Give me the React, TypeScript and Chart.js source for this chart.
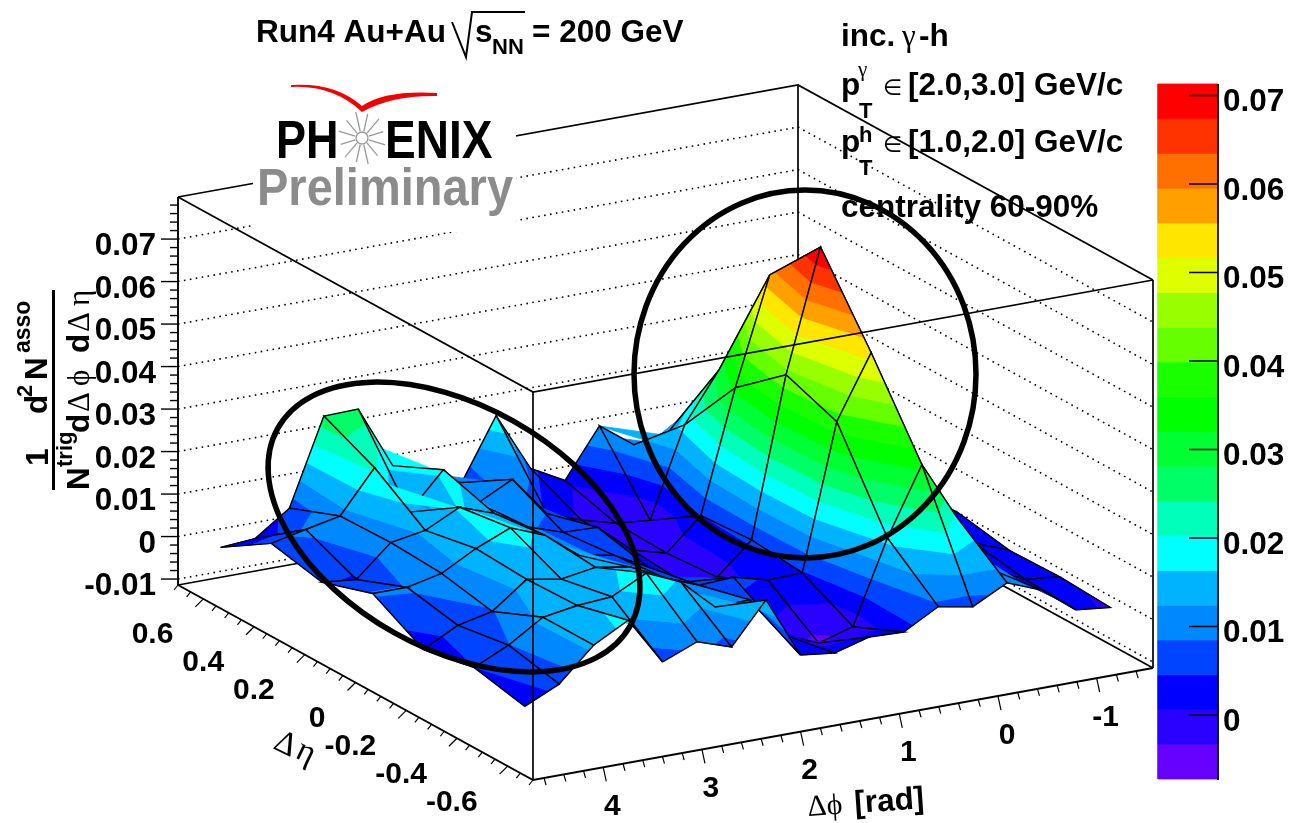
import React, { useEffect, useRef } from "react";
import { Chart, registerables } from "chart.js";

Chart.register(...registerables);

// ---- data ----
const phiCenters = [4.538, 4.189, 3.84, 3.491, 3.142, 2.793, 2.443, 2.094, 1.745, 1.396, 1.047, 0.698, 0.349, 0, -0.349, -0.698, -1.047, -1.396];
const etaCenters = [-0.6, -0.4, -0.2, 0, 0.2, 0.4, 0.6];
// one row per phi centre, one value per eta centre
const zPerPhi = [
  [0.0019, 0.0045, 0.0022, 0.0088, 0.0049, 0.0075, 0.0],
  [0.0057, 0.0083, 0.0064, 0.0088, 0.0041, 0.0093, 0.0006],
  [0.0134, 0.0134, 0.0082, 0.0106, 0.0113, 0.011, 0.0063],
  [0.0178, 0.0147, 0.0143, 0.015, 0.0127, 0.0209, 0.0265],
  [0.0065, 0.0153, 0.0129, 0.0184, 0.0167, 0.009, 0.0267],
  [0.0098, 0.0194, 0.0142, 0.0152, 0.0138, 0.0175, 0.0119],
  [0.0071, 0.0158, 0.0128, 0.009, 0.0091, 0.0082, 0.0087],
  [0.0167, 0.0085, 0.0088, 0.0076, 0.0064, 0.0123, 0.005],
  [0.0023, 0.0087, 0.0056, 0.0033, 0.0061, 0.0028, 0.0193],
  [0.0013, -0.001, 0.006, -0.0017, -0.0007, -0.0002, 0.0054],
  [0.0036, -0.0044, 0.0039, -0.002, -0.0029, -0.0024, 0.0011],
  [0.0033, -0.002, 0.0041, 0.0053, 0.0045, -0.0032, 0.0125],
  [0.0078, 0.0174, 0.0382, 0.0427, 0.0331, 0.0178, 0.0066],
  [0.0063, 0.0332, 0.053, 0.0713, 0.0582, 0.0293, 0.0081],
  [0.0105, 0.0195, 0.0286, 0.0456, 0.0416, 0.0411, 0.0116],
  [0.0073, 0.0057, 0.0097, 0.0217, 0.0267, 0.0167, 0.0077],
  [0.0012, 0.0018, 0.0038, 0.0078, 0.0098, 0.0068, 0.0038],
  [0.0003, 0.001, 0.0007, 0.0029, 0.0029, 0.0029, 0.0019],
];
const bandColors = [
  "#6600ff", "#2a00ff", "#0000ff", "#0044ff", "#0088ff", "#00b3ff", "#00ffff", "#00ffbb", "#00ff66", "#00ff33",
  "#00ff00", "#1aff00", "#66ff00", "#99ff00", "#ddff00", "#ffe600", "#ffa000", "#ff7000", "#ff3300", "#ff0000",
];
const colorMin = -0.00723;
const colorMax = 0.0713;
const zTickValues = [-0.01, 0, 0.01, 0.02, 0.03, 0.04, 0.05, 0.06, 0.07];
const zTickLabels = ["-0.01", "0", "0.01", "0.02", "0.03", "0.04", "0.05", "0.06", "0.07"];
const cbTickValues = [0, 0.01, 0.02, 0.03, 0.04, 0.05, 0.06, 0.07];
const cbTickLabels = ["0", "0.01", "0.02", "0.03", "0.04", "0.05", "0.06", "0.07"];
const etaTickValues = [-0.6, -0.4, -0.2, 0, 0.2, 0.4, 0.6];
const etaTickLabels = ["-0.6", "-0.4", "-0.2", "0", "0.2", "0.4", "0.6"];
const phiTickValues = [-1, 0, 1, 2, 3, 4];
const phiTickLabels = ["-1", "0", "1", "2", "3", "4"];

// ---- projection of the ROOT-style box ----
const PHI_MAX = 4.712, PHI_MIN = -1.571, ETA_MIN = -0.7, ETA_MAX = 0.7, Z_MIN = -0.0114, Z_MAX = 0.0799;
const F = { x: 533, y: 780 }, LEFT = { x: 178, y: 585 }, RIGHT = { x: 1153, y: 668 };
const BOX_H = 388;
function proj(phi: number, eta: number, z: number) {
  const a = (PHI_MAX - phi) / (PHI_MAX - PHI_MIN);
  const b = (eta - ETA_MIN) / (ETA_MAX - ETA_MIN);
  const h = ((z - Z_MIN) / (Z_MAX - Z_MIN)) * BOX_H;
  return {
    x: F.x + a * (RIGHT.x - F.x) + b * (LEFT.x - F.x),
    y: F.y + a * (RIGHT.y - F.y) + b * (LEFT.y - F.y) - h,
  };
}
const cbY = (z: number) => 715 - (z / 0.01) * 88.5;

type P = { x: number; y: number };
type V = P & { z: number };

const line = (pts: P[], color = "#000", width = 1, dash: number[] = []) => ({
  data: pts, showLine: true, borderColor: color, borderWidth: width, borderDash: dash,
  pointRadius: 0, fill: false, tension: 0, borderCapStyle: "butt",
});
const poly = (pts: P[], color: string) => ({
  data: [...pts, pts[0]], showLine: true, borderColor: color, borderWidth: 0.8, backgroundColor: color,
  pointRadius: 0, fill: "shape", tension: 0, borderJoinStyle: "round",
});

function clipZ(pts: V[], level: number, keepAbove: boolean): V[] {
  const out: V[] = [];
  const inside = (v: V) => (keepAbove ? v.z >= level : v.z <= level);
  for (let i = 0; i < pts.length; i++) {
    const a = pts[i], b = pts[(i + 1) % pts.length];
    if (inside(a)) out.push(a);
    if (inside(a) !== inside(b)) {
      const t = (level - a.z) / (b.z - a.z);
      out.push({ x: a.x + t * (b.x - a.x), y: a.y + t * (b.y - a.y), z: level });
    }
  }
  return out;
}

function buildDatasets() {
  const paint: any[] = []; // painted back to front
  const at = (phi: number, eta: number, z: number) => proj(phi, eta, z);
  for (const z of zTickValues) {
    paint.push(line([at(PHI_MAX, ETA_MAX, z), at(PHI_MIN, ETA_MAX, z), at(PHI_MIN, ETA_MIN, z)], "#000", 1.6, [1.6, 4.4]));
  }
  paint.push(line([at(PHI_MAX, ETA_MAX, Z_MIN), at(PHI_MIN, ETA_MAX, Z_MIN), at(PHI_MIN, ETA_MIN, Z_MIN)], "#000", 1.7));
  paint.push(line([at(PHI_MAX, ETA_MAX, Z_MAX), at(PHI_MIN, ETA_MAX, Z_MAX), at(PHI_MIN, ETA_MIN, Z_MAX)], "#000", 1.7));
  paint.push(line([at(PHI_MIN, ETA_MAX, Z_MIN), at(PHI_MIN, ETA_MAX, Z_MAX)], "#000", 1.7));
  paint.push(line([at(PHI_MIN, ETA_MIN, Z_MIN), at(PHI_MIN, ETA_MIN, Z_MAX)], "#000", 1.7));

  // surface
  const dz = (colorMax - colorMin) / bandColors.length;
  for (let i = phiCenters.length - 2; i >= 0; i--) {
    for (let j = etaCenters.length - 2; j >= 0; j--) {
      const corners: [number, number][] = [[i, j], [i + 1, j], [i + 1, j + 1], [i, j + 1]];
      const quad: V[] = corners.map(([a, b]) => {
        const z = zPerPhi[a][b];
        return { ...proj(phiCenters[a], etaCenters[b], z), z };
      });
      bandColors.forEach((c, k) => {
        let pts = quad;
        if (k > 0) pts = clipZ(pts, colorMin + k * dz, true);
        if (pts.length && k < bandColors.length - 1) pts = clipZ(pts, colorMin + (k + 1) * dz, false);
        if (pts.length >= 3) paint.push(poly(pts, c));
      });
      paint.push(line([...quad, quad[0]], "#000", 1.4));
    }
  }

  // front frame
  paint.push(line([at(PHI_MAX, ETA_MAX, Z_MAX), at(PHI_MAX, ETA_MIN, Z_MAX), at(PHI_MIN, ETA_MIN, Z_MAX)], "#000", 1.7));
  paint.push(line([at(PHI_MAX, ETA_MIN, Z_MIN), at(PHI_MAX, ETA_MIN, Z_MAX)], "#000", 1.7));
  paint.push(line([at(PHI_MAX, ETA_MAX, Z_MIN), at(PHI_MAX, ETA_MIN, Z_MIN), at(PHI_MIN, ETA_MIN, Z_MIN)], "#000", 1.9));
  paint.push(line([at(PHI_MAX, ETA_MAX, Z_MIN), at(PHI_MAX, ETA_MAX, Z_MAX)], "#000", 1.9));

  // z axis ticks
  for (let k = -6; k <= 45; k++) {
    const z = k * 0.002;
    if (z < Z_MIN || z > Z_MAX) continue;
    const p = at(PHI_MAX, ETA_MAX, z);
    const major = k % 5 === 0;
    paint.push(line([p, { x: p.x - (major ? 17 : 8), y: p.y }], "#000", 1.4));
  }
  // eta axis ticks
  for (let k = -14; k <= 14; k++) {
    const eta = k * 0.05;
    const p = at(PHI_MAX, eta, Z_MIN);
    const major = k % 4 === 0;
    paint.push(line([p, { x: p.x - (major ? 8 : 4), y: p.y + (major ? 8 : 5) }], "#000", 1.2));
  }
  // phi axis ticks
  for (let k = -7; k <= 23; k++) {
    const phi = k * 0.2;
    const p = at(phi, ETA_MIN, Z_MIN);
    const major = k % 5 === 0;
    paint.push(line([p, { x: p.x + (major ? 3 : 2), y: p.y + (major ? 14 : 7) }], "#000", 1.2));
  }

  // colour bar
  bandColors.forEach((c, k) => {
    const lo = cbY(colorMin + k * dz), hi = cbY(colorMin + (k + 1) * dz);
    paint.push(poly([{ x: 1158, y: lo }, { x: 1218, y: lo }, { x: 1218, y: hi }, { x: 1158, y: hi }], c));
  });
  paint.push(line([{ x: 1218, y: cbY(colorMin) + 1 }, { x: 1218, y: cbY(colorMax) }], "#000", 1.7));
  for (const z of cbTickValues) {
    paint.push(line([{ x: 1189, y: cbY(z) }, { x: 1218, y: cbY(z) }], "#000", 1.5));
  }
  return paint.reverse();
}

const SANS = '"Liberation Sans"';
const SERIF = '"Liberation Serif"';

const overlay = {
  id: "overlay",
  afterDatasetsDraw(chart: any) {
    const c: CanvasRenderingContext2D = chart.ctx;
    const sx = (v: number) => chart.scales.x.getPixelForValue(v);
    const sy = (v: number) => chart.scales.y.getPixelForValue(v);
    const txt = (s: string, x: number, y: number, font: string, o: any = {}) => {
      c.save();
      c.translate(sx(x), sy(y));
      if (o.rot) c.rotate(o.rot);
      if (o.sy) c.scale(1, o.sy);
      c.font = font;
      c.textAlign = o.align || "left";
      c.textBaseline = "alphabetic";
      c.fillStyle = o.color || "#000";
      c.fillText(s, 0, 0);
      c.restore();
    };
    const B = `bold 31.5px ${SANS}`;
    const S = `bold 22px ${SANS}`;
    const G = `31px ${SERIF}`;

    // logo patch
    c.fillStyle = "#fff";
    c.fillRect(253, 60, 263, 172);
    // swoosh
    c.fillStyle = "#f40000";
    c.beginPath();
    c.moveTo(291, 85);
    c.quadraticCurveTo(335, 82, 362, 106);
    c.quadraticCurveTo(385, 90, 437, 93);
    c.lineTo(437, 96);
    c.quadraticCurveTo(392, 95, 362, 112);
    c.quadraticCurveTo(333, 85, 291, 87);
    c.closePath();
    c.fill();
    txt("PH", 276, 158, `bold 45px ${SANS}`, { sy: 1.18 });
    txt("ENIX", 385, 158, `bold 46px ${SANS}`, { sy: 1.18 });
    // star
    c.strokeStyle = "#999";
    c.lineWidth = 1.3;
    for (let k = 0; k < 12; k++) {
      const t = (k * Math.PI) / 6 + Math.PI / 12;
      const rx = k % 2 ? 22 : 24;
      c.beginPath();
      c.moveTo(362 + 7 * Math.cos(t), 138 + 7 * Math.sin(t));
      c.lineTo(362 + rx * Math.cos(t), 138 + (rx + 3) * Math.sin(t));
      c.stroke();
    }
    c.beginPath();
    c.arc(362, 138, 6, 0, Math.PI * 2);
    c.stroke();
    txt("Preliminary", 257, 205, `bold 47px ${SANS}`, { color: "#8c8c8c", sy: 1.1 });

    // title
    txt("Run4 Au+Au", 256, 42, B);
    c.strokeStyle = "#000";
    c.lineWidth = 2;
    c.beginPath();
    c.moveTo(452, 22);
    c.lineTo(466, 57);
    c.lineTo(472, 12);
    c.lineTo(525, 12);
    c.stroke();
    txt("s", 475, 42, B);
    txt("NN", 492, 54, S);
    txt("= 200 GeV", 532, 42, B);

    // info panel
    txt("inc.", 841, 46, B);
    txt("\u03b3", 902, 46, G);
    txt("-h", 919, 46, B);
    txt("p", 841, 95, B);
    txt("\u03b3", 858, 76, `21px ${SERIF}`);
    txt("T", 859, 118, S);
    txt("\u2208", 883, 95, `22px "DejaVu Sans"`);
    txt("[2.0,3.0] GeV/c", 908, 95, B);
    txt("p", 841, 152, B);
    txt("h", 859, 142, S);
    txt("T", 859, 175, S);
    txt("\u2208", 883, 152, `22px "DejaVu Sans"`);
    txt("[1.0,2.0] GeV/c", 908, 152, B);
    txt("centrality 60-90%", 841, 217, B);

    // y title (rotated)
    const up = -Math.PI / 2;
    txt("1", 48, 466, B, { rot: up });
    txt("d", 47, 414, B, { rot: up });
    txt("2", 32, 397, S, { rot: up });
    txt("N", 47, 380, B, { rot: up });
    txt("asso", 30, 353, `bold 23px ${SANS}`, { rot: up });
    c.fillStyle = "#000";
    c.fillRect(52, 290, 3, 200);
    txt("N", 89, 490, B, { rot: up });
    txt("trig", 72, 467, `bold 22px ${SANS}`, { rot: up });
    txt("d", 89, 433, B, { rot: up });
    txt("\u0394", 89, 412, G, { rot: up });
    txt("\u03d5", 89, 386, G, { rot: up });
    txt("d", 89, 353, B, { rot: up });
    txt("\u0394", 89, 332, G, { rot: up });
    txt("\u03b7", 89, 306, G, { rot: up });

    // tick labels
    zTickValues.forEach((z, k) => {
      const p = proj(PHI_MAX, ETA_MAX, z);
      txt(zTickLabels[k], 156, p.y + 16, B, { align: "right" });
    });
    cbTickValues.forEach((z, k) => {
      txt(cbTickLabels[k], 1223, cbY(z) + 15.5, B);
    });
    etaTickValues.forEach((e, k) => {
      const p = proj(PHI_MAX, e, Z_MIN);
      txt(etaTickLabels[k], p.x - 30, p.y + 44.5, `bold 30px ${SANS}`, { align: "right" });
    });
    phiTickValues.forEach((v, k) => {
      const p = proj(v, ETA_MIN, Z_MIN);
      txt(phiTickLabels[k], p.x + 9, p.y + 47.5, `bold 30px ${SANS}`, { align: "center" });
    });
    txt("\u0394\u03d5", 808, 816, `30px ${SERIF}`, { rot: -0.07 });
    txt("[rad]", 855, 813, `bold 31.5px ${SANS}`, { rot: -0.07 });
    txt("\u0394", 272, 748, `33px ${SERIF}`, { rot: 0.45 });
    txt("\u03b7", 294, 757, `34px ${SERIF}`, { rot: 0.45 });

    // hand-drawn ellipses
    c.strokeStyle = "#000";
    c.lineWidth = 5.5;
    c.beginPath();
    c.ellipse(805, 374, 171, 184, 0, 0, Math.PI * 2);
    c.stroke();
    c.beginPath();
    c.ellipse(454, 527, 202, 121.5, (29.3 * Math.PI) / 180, 0, Math.PI * 2);
    c.stroke();
  },
};

export default function App() {
  const ref = useRef<HTMLCanvasElement>(null);
  useEffect(() => {
    const chart = new Chart(ref.current as HTMLCanvasElement, {
      type: "scatter",
      data: { datasets: buildDatasets() as any },
      options: {
        responsive: false,
        animation: false,
        events: [],
        layout: { padding: 0 },
        plugins: { legend: { display: false }, tooltip: { enabled: false } },
        scales: {
          x: { type: "linear", min: 0, max: 1290, display: false },
          y: { type: "linear", min: 0, max: 823, reverse: true, display: false },
        },
      },
      plugins: [overlay as any],
    });
    return () => chart.destroy();
  }, []);
  return (
    <div style={{ position: "absolute", left: 0, top: 0, width: 1290, height: 823, background: "#fff" }}>
      <canvas ref={ref} width={1290} height={823} style={{ display: "block" }} />
    </div>
  );
}
